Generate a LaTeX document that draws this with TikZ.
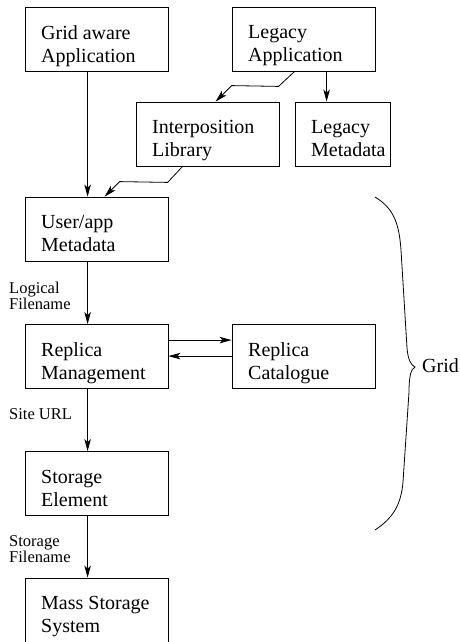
\documentclass[tikz,border=0pt]{standalone}
\usepackage{fontspec}
\setmainfont{Liberation Serif}
\usetikzlibrary{arrows.meta}
\begin{document}
\begin{tikzpicture}[x=1pt,y=-1pt,
  box/.style={draw, line width=0.8pt, minimum width=143pt, minimum height=64pt, inner sep=0pt},
  smallbox/.style={box, minimum width=95pt},
  txt/.style={anchor=north west, inner sep=0pt, align=left, font=\fontsize{20}{23}\selectfont},
  lbl/.style={inner sep=0pt, align=left, font=\fontsize{16.5}{16}\selectfont},
  arr/.style={line width=0.8pt, -{Stealth[length=12pt,width=6.5pt,inset=3pt]}},
  brace/.style={line width=0.8pt}]
\useasboundingbox (0,0) rectangle (459,642);
% boxes
\node[box] (ga) at (96.5,39) {};
\node[box] (la) at (303.5,39) {};
\node[box] (il) at (207.5,134) {};
\node[smallbox] (lm) at (342.5,134) {};
\node[box] (ua) at (96.5,229) {};
\node[box] (rm) at (96.5,356.5) {};
\node[box] (rc) at (303.5,356.5) {};
\node[box] (se) at (96.5,483.5) {};
\node[box] (ms) at (96.5,610) {};
% box texts
\node[txt] (gat) at (41,25.3) {Grid aware\\Application};
\node[txt] (lat) at (248,25.3) {Legacy\\Application};
\node[txt] (ilt) at (152,120.3) {Interposition\\Library};
\node[txt] (lmt) at (311,120.3) {Legacy\\Metadata};
\node[txt] (uat) at (41,215.3) {User/app\\Metadata};
\node[txt] (rmt) at (41,342.8) {Replica\\Management};
\node[txt] (rct) at (248,342.8) {Replica\\Catalogue};
\node[txt] (set) at (41,469.8) {Storage\\Element};
\node[txt] (mst) at (41,596.3) {Mass Storage\\System};
% labels
\node[lbl, anchor=north west] (l1) at (9,281.7) {Logical\\Filename};
\node[lbl, anchor=base west] (l2) at (9,419.5) {Site URL};
\node[lbl, anchor=north west] (l3) at (9,535.8) {Storage\\Filename};
\node[anchor=base west, inner sep=0pt, font=\fontsize{20}{23}\selectfont] (grid) at (422,372.5) {Grid};
% connectors
\draw[arr] ([xshift=63pt]ga.south west) -- ([xshift=63pt]ua.north west);
\draw[arr] ([xshift=63pt]la.south west) -- ++(-16,15) -- ([xshift=96pt,yshift=16pt]il.north west) -- ([xshift=80pt]il.north west);
\draw[arr] ([xshift=95pt]la.south west) -- ([xshift=32pt]lm.north west);
\draw[arr] ([xshift=47pt]il.south west) -- ++(-15,16) -- ([xshift=95pt,yshift=15pt]ua.north west) -- ([xshift=80pt]ua.north west);
\draw[arr] ([xshift=63pt]ua.south west) -- ([xshift=63pt]rm.north west);
\draw[arr] ([yshift=-16pt]rm.north east) -- ([yshift=-16pt]rc.north west);
\draw[arr] ([yshift=-32pt]rc.north west) -- ([yshift=-32pt]rm.north east);
\draw[arr] ([xshift=63pt]rm.south west) -- ([xshift=63pt]se.north west);
\draw[arr] ([xshift=63pt]se.south west) -- ([xshift=63pt]ms.north west);
% brace
\draw[brace] (375,197) .. controls (393,208) and (399,222) .. (401,250) -- (407,348)
  .. controls (408,360) and (411,365) .. (415,367)
  .. controls (411,369) and (409,376) .. (409,392) -- (403,482)
  .. controls (401,505) and (393,518) .. (375,530);
\end{tikzpicture}
\end{document}
